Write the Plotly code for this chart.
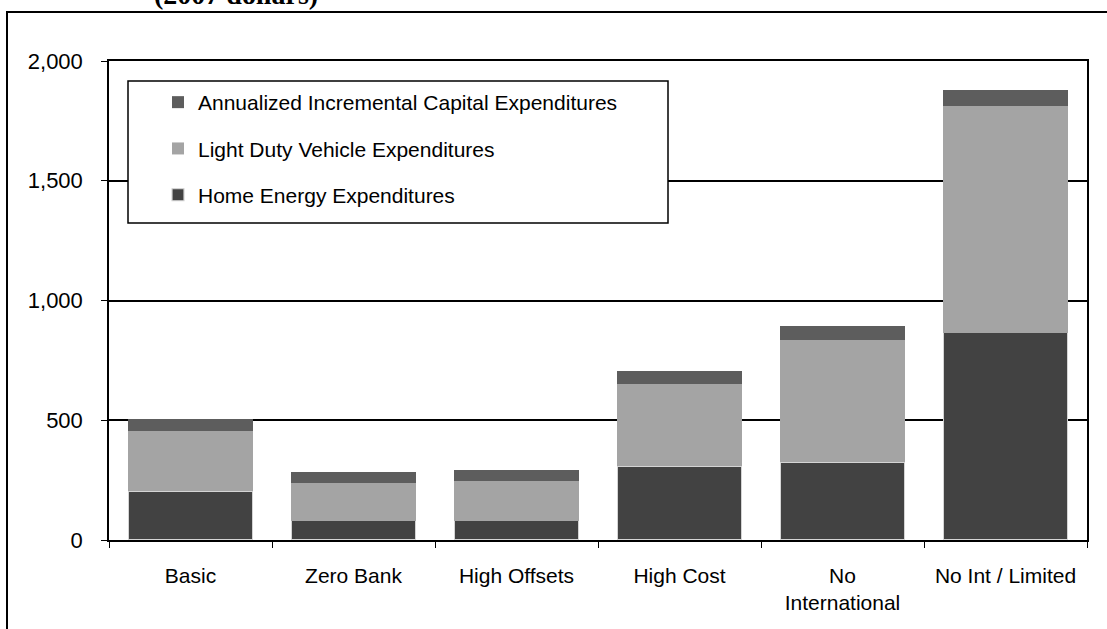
import plotly.graph_objects as go

categories = ["Basic", "Zero Bank", "High Offsets", "High Cost", "No<br>International", "No Int / Limited"]
home_energy = [205, 80, 80, 308, 324, 866]
light_duty = [250, 158, 165, 342, 510, 945]
capital = [50, 48, 47, 57, 58, 66]
y_ticks = [0, 500, 1000, 1500, 2000]
y_ticklabels = ["0", "500", "1,000", "1,500", "2,000"]

FONT = "Liberation Sans, Arial, sans-serif"

W, H = 1107, 629
L, R, T, B = 109, 20, 61, 89
PW = W - L - R
PH = H - T - B
BOTTOM = T + PH  # pixel y of the x axis


def px_x(p):
    return (p - L) / PW


def px_y(p):
    return (BOTTOM - p) / PH


fig = go.Figure()
fig.add_trace(go.Bar(x=categories, y=home_energy, name="Home Energy Expenditures",
                     legendgroup="a", legendrank=3,
                     marker=dict(color="#424242", line=dict(color="#d4d4d4", width=1.2))))
fig.add_trace(go.Bar(x=categories, y=light_duty, name="Light Duty Vehicle Expenditures",
                     legendgroup="b", legendrank=2, marker=dict(color="#a4a4a4", line=dict(width=0))))
fig.add_trace(go.Bar(x=categories, y=capital, name="Annualized Incremental Capital Expenditures",
                     legendgroup="c", legendrank=1, marker=dict(color="#5d5d5d", line=dict(width=0))))

fig.update_layout(
    barmode="stack",
    bargap=0.235,
    width=W, height=H,
    margin=dict(l=L, r=R, t=T, b=B, autoexpand=False),
    paper_bgcolor="white", plot_bgcolor="white",
    font=dict(family=FONT, size=20, color="black"),
    showlegend=True,
    legend=dict(
        x=px_x(158), y=px_y(82), xanchor="left", yanchor="top",
        traceorder="grouped", tracegroupgap=16,
        bgcolor="rgba(0,0,0,0)", borderwidth=0,
        font=dict(family=FONT, size=21, color="black"),
        itemwidth=30,
    ),
    xaxis=dict(
        showline=True, linecolor="black", linewidth=1.5, mirror=True,
        ticks="outside", tickson="boundaries", ticklen=6, tickcolor="black",
        ticklabelstandoff=16, showgrid=False,
        tickfont=dict(family=FONT, size=21),
    ),
    yaxis=dict(
        range=[0, 2000], tickvals=y_ticks, ticktext=y_ticklabels,
        showline=True, linecolor="black", linewidth=1.5, mirror=True,
        ticks="outside", ticklen=6, tickcolor="black",
        ticklabelstandoff=14,
        showgrid=True, gridcolor="black", gridwidth=1.5,
        zeroline=False,
        tickfont=dict(family=FONT, size=22),
    ),
    shapes=[
        dict(type="rect", xref="paper", yref="paper",
             x0=px_x(7), x1=1.2, y0=-0.5, y1=px_y(12),
             line=dict(color="black", width=2), fillcolor="rgba(0,0,0,0)", layer="below"),
        dict(type="rect", xref="paper", yref="paper",
             x0=px_x(128), x1=px_x(668), y0=px_y(223), y1=px_y(81),
             line=dict(color="black", width=1.5), fillcolor="white", layer="above"),
    ],
    annotations=[dict(text="<b>(2007 dollars)</b>", xref="paper", yref="paper",
                      x=px_x(236), y=px_y(12), xanchor="center", yanchor="bottom",
                      showarrow=False, font=dict(family="Liberation Serif, Times New Roman, serif", size=28))],
)

fig.write_html("out.html", config={"displayModeBar": False},
               post_script="document.body.style.margin='0';document.body.style.overflow='hidden';")
